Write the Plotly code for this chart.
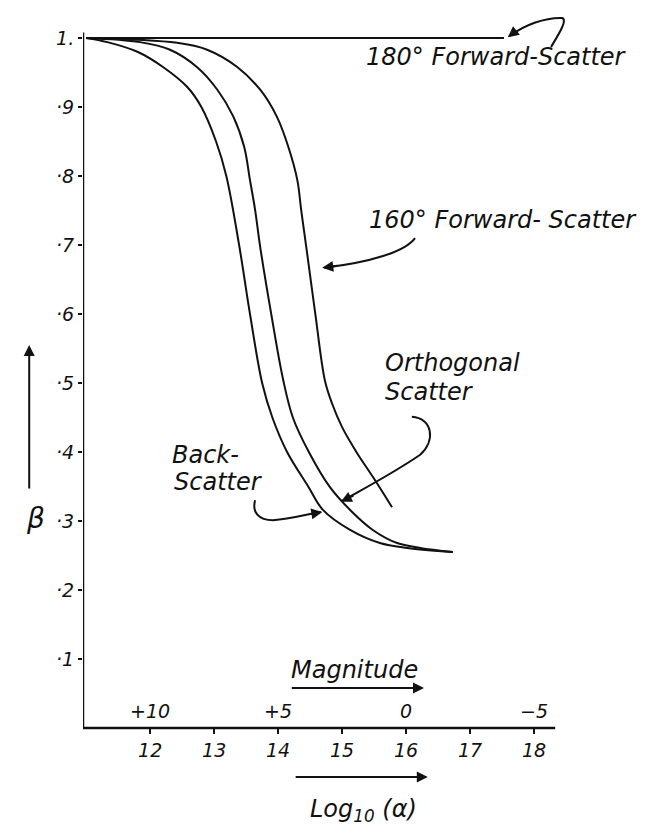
import plotly.graph_objects as go

# ---------------- data ----------------
back_x = [11.0, 11.33, 11.80, 12.20, 12.58, 12.80, 13.03, 13.19, 13.39, 13.56, 13.75, 13.91, 14.14, 14.47, 14.70, 15.125, 15.59, 16.02, 16.73]
back_y = [1.0, 0.994, 0.980, 0.958, 0.929, 0.900, 0.850, 0.800, 0.700, 0.600, 0.500, 0.450, 0.400, 0.350, 0.316, 0.287, 0.268, 0.261, 0.255]

orth_x = [11.0, 11.84, 12.31, 12.73, 13.05, 13.30, 13.47, 13.56, 13.64, 13.72, 13.89, 14.08, 14.23, 14.48, 14.81, 15.125, 15.48, 15.86, 16.22, 16.73]
orth_y = [1.0, 0.994, 0.983, 0.958, 0.925, 0.886, 0.842, 0.794, 0.751, 0.697, 0.601, 0.504, 0.450, 0.400, 0.349, 0.316, 0.287, 0.268, 0.261, 0.255]

fwd160_x = [11.0, 12.42, 12.89, 13.36, 13.72, 13.98, 14.16, 14.30, 14.36, 14.44, 14.58, 14.73, 14.84, 15.00, 15.23, 15.48, 15.78]
fwd160_y = [1.0, 0.993, 0.983, 0.958, 0.925, 0.886, 0.842, 0.794, 0.751, 0.697, 0.601, 0.504, 0.471, 0.436, 0.399, 0.364, 0.320]

fwd180_x = [11.0, 17.53]
fwd180_y = [1.0, 1.0]

x_ticks = [12, 13, 14, 15, 16, 17, 18]
x_ticklabels = ["12", "13", "14", "15", "16", "17", "18"]
mag_pos = [12, 14, 16, 18]
mag_labels = ["+10", "+5", "0", "\u22125"]
y_ticks = [0.1, 0.2, 0.3, 0.4, 0.5, 0.6, 0.7, 0.8, 0.9, 1.0]
y_ticklabels = ["\u00b71", "\u00b72", "\u00b73", "\u00b74", "\u00b75", "\u00b76", "\u00b77", "\u00b78", "\u00b79", "1."]

# ---------------- figure ----------------
FONT = "DejaVu Sans"
INK = "#111111"
Y_MIN, Y_MAX = -0.158, 1.0507
X_MIN, X_MAX = 10.95, 20.0

fig = go.Figure()
line_style = dict(color=INK, width=2, shape="spline", smoothing=1.0)
for xs, ys, name in [(back_x, back_y, "Back-Scatter"),
                     (orth_x, orth_y, "Orthogonal Scatter"),
                     (fwd160_x, fwd160_y, "160° Forward-Scatter"),
                     (fwd180_x, fwd180_y, "180° Forward-Scatter")]:
    fig.add_trace(go.Scatter(x=xs, y=ys, mode="lines", name=name,
                             line=line_style, hoverinfo="skip", showlegend=False))

# axis lines (hand-drawn length)
fig.add_shape(type="line", x0=X_MIN, y0=0, x1=18.33, y1=0, xref="x", yref="y",
              line=dict(color=INK, width=2.5))
fig.add_shape(type="line", x0=X_MIN, y0=0, x1=X_MIN, y1=1.008, xref="x", yref="y",
              line=dict(color=INK, width=2.5))

# curved pointer lines
pointer_paths = [
    "M 18.266,0.987 C 18.375,1.004 18.53,1.026 18.44,1.029 C 18.17,1.030 17.86,1.019 17.62,1.003",
    "M 16.14,0.710 C 15.98,0.690 15.44,0.675 14.72,0.667",
    "M 16.09,0.451 C 16.41,0.449 16.47,0.417 16.22,0.396 C 15.83,0.371 15.36,0.348 15.0,0.329",
    "M 13.64,0.330 C 13.59,0.313 13.69,0.301 13.92,0.301 C 14.19,0.303 14.42,0.309 14.67,0.313",
]
for p in pointer_paths:
    fig.add_shape(type="path", path=p, xref="x", yref="y", line=dict(color=INK, width=2))

annotations = []
def head(x, y, ax, ay):
    annotations.append(dict(x=x, y=y, ax=ax, ay=ay, xref="x", yref="y", axref="x", ayref="y",
                            text="", showarrow=True, arrowhead=2, arrowsize=1.1,
                            arrowwidth=2, arrowcolor=INK, standoff=0))

head(17.59, 1.001, 17.74, 1.012)
head(14.69, 0.667, 14.95, 0.670)
head(14.98, 0.328, 15.2, 0.338)
head(14.69, 0.313, 14.5, 0.310)
head(16.28, 0.058, 14.19, 0.058)     # Magnitude arrow
head(16.34, -0.071, 14.25, -0.071)   # Log arrow

txt = dict(family=FONT, size=24, color=INK, style="italic")
def label(x, y, s, xanchor="left", size=None):
    f = dict(txt)
    if size:
        f["size"] = size
    annotations.append(dict(x=x, y=y, xref="x", yref="y", text=s, showarrow=False,
                            xanchor=xanchor, yanchor="middle", font=f))

label(15.34, 0.972, "180° Forward-Scatter")
label(15.39, 0.736, "160° Forward- Scatter")
label(15.64, 0.529, "Orthogonal")
label(15.64, 0.487, "Scatter")
label(12.31, 0.396, "Back-")
label(12.34, 0.357, "Scatter")
label(15.19, 0.084, "Magnitude", xanchor="center")
label(15.33, -0.119, "Log<sub>10</sub> (\u03b1)", xanchor="center")
for xp, s in zip(mag_pos, mag_labels):
    label(xp, 0.025, s, xanchor="center", size=19)

# beta label and arrow (left margin)
annotations.append(dict(x=-0.0929, y=0.555, xref="paper", yref="y", ax=0, ay=145,
                        text="", showarrow=True, arrowhead=2, arrowsize=1.1,
                        arrowwidth=2, arrowcolor=INK, standoff=0))
annotations.append(dict(x=-0.1015, y=0.304, xref="paper", yref="y", text="\u03b2",
                        showarrow=False, font=dict(family=FONT, size=28, color=INK, style="italic")))

fig.update_layout(
    width=662, height=837,
    margin=dict(l=82.8, r=0, t=3, b=0),
    paper_bgcolor="white", plot_bgcolor="white",
    showlegend=False,
    annotations=annotations,
    xaxis=dict(range=[X_MIN, X_MAX], anchor="free", position=(0 - Y_MIN) / (Y_MAX - Y_MIN),
               tickvals=x_ticks, ticktext=x_ticklabels, ticks="outside", ticklen=5,
               tickwidth=2, tickcolor=INK, showgrid=False, zeroline=False, showline=False,
               tickfont=dict(family=FONT, size=19, color=INK, style="italic")),
    yaxis=dict(range=[Y_MIN, Y_MAX], tickvals=y_ticks, ticktext=y_ticklabels,
               ticks="outside", ticklen=4, tickwidth=2, tickcolor=INK,
               showgrid=False, zeroline=False, showline=False,
               tickfont=dict(family=FONT, size=19, color=INK, style="italic")),
)

fig.write_html("out.html")
